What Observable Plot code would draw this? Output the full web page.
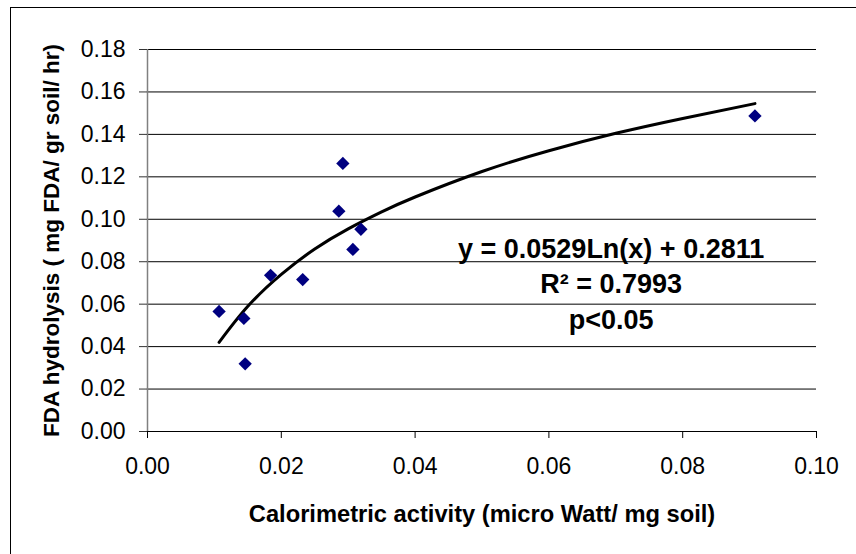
<!DOCTYPE html>
<html><head><meta charset="utf-8">
<script src="https://cdn.jsdelivr.net/npm/d3@7"></script>
<script src="https://cdn.jsdelivr.net/npm/@observablehq/plot@0.6"></script>
<style>
body{margin:0;background:#fff}
#wrap{position:relative;width:856px;height:554px;overflow:hidden}
#frame{position:absolute;left:10px;top:7px;width:900px;height:600px;border-left:1px solid #000;border-top:1px solid #000;pointer-events:none}
#chart{position:absolute;left:0;top:0}
</style>
</head><body>
<div id="wrap"><div id="frame"></div><div id="chart"></div></div>
<script>
// Measured points
const calX = [0.0107, 0.0144, 0.0146, 0.0184, 0.0232, 0.0286, 0.0292, 0.0307, 0.0319, 0.0908];
const fdaY = [0.0566, 0.0533, 0.0319, 0.0736, 0.0716, 0.1038, 0.1263, 0.0858, 0.0953, 0.1487];
// Logarithmic trend line
const trendX = [0.0107, 0.015, 0.02, 0.025, 0.03, 0.035, 0.04, 0.05, 0.06, 0.07, 0.08, 0.0908];
const trendY = [0.042, 0.059, 0.074, 0.086, 0.0955, 0.1035, 0.1105, 0.1225, 0.1323, 0.1405, 0.1475, 0.1545];
// Ticks
const xTicks = [0, 0.02, 0.04, 0.06, 0.08, 0.10];
const yTicks = [0, 0.02, 0.04, 0.06, 0.08, 0.10, 0.12, 0.14, 0.16, 0.18];
// Texts
const xTitle = "Calorimetric activity (micro Watt/ mg soil)";
const yTitle = "FDA hydrolysis ( mg FDA/ gr soil/ hr)";
const eqText = ["y = 0.0529Ln(x) + 0.2811", "R\u00B2 = 0.7993", "p<0.05"];
const eqX = [0.0693, 0.0693, 0.0693];
const eqY = [0.0858, 0.0691, 0.0524];

const points = calX.map((x, i) => ({x, y: fdaY[i]}));
const trend = trendX.map((x, i) => ({x, y: trendY[i]}));
const eq = eqText.map((t, i) => ({t, x: eqX[i], y: eqY[i]}));
const font = '"Liberation Sans", Arial, sans-serif';
const fmt = d3.format(".2f");

const chart = Plot.plot({
  width: 856, height: 554,
  marginLeft: 147, marginRight: 40, marginTop: 49, marginBottom: 123,
  style: {fontFamily: font, background: "transparent", color: "#000", overflow: "visible"},
  x: {domain: [0, 0.1]},
  y: {domain: [0, 0.18]},
  marks: [
    Plot.gridY(yTicks.filter(d => d > 0), {stroke: "#000", strokeOpacity: 1, strokeWidth: 1}),
    Plot.ruleX([0], {stroke: "#808080", strokeWidth: 1.5}),
    Plot.ruleY([0], {stroke: "#000", strokeWidth: 1}),
    Plot.axisY(yTicks, {tickSize: 8, tickPadding: 14, tickFormat: fmt, fontSize: 23, label: null, stroke: "#333"}),
    Plot.axisX(xTicks, {tickSize: 7, tickPadding: 19, tickFormat: fmt, fontSize: 23, label: null, stroke: "#000"}),
    Plot.line(trend, {x: "x", y: "y", stroke: "#000", strokeWidth: 3, curve: "natural"}),
    Plot.dot(points, {x: "x", y: "y", symbol: "diamond2", r: 6, fill: "#000080", stroke: "none"}),
    Plot.text(eq, {x: "x", y: "y", text: "t", fontSize: 27, fontWeight: "bold", fill: "#000", textAnchor: "middle", lineAnchor: "middle"}),
    Plot.text([xTitle], {text: d => d, frameAnchor: "bottom", dy: 83, fontSize: 23.7, fontWeight: "bold", fill: "#000", textAnchor: "middle", lineAnchor: "middle"}),
    Plot.text([yTitle], {text: d => d, frameAnchor: "left", dx: -96, rotate: -90, fontSize: 22.5, fontWeight: "bold", fill: "#000", textAnchor: "middle", lineAnchor: "middle"})
  ]
});
document.getElementById("chart").appendChild(chart);
</script>
</body></html>
